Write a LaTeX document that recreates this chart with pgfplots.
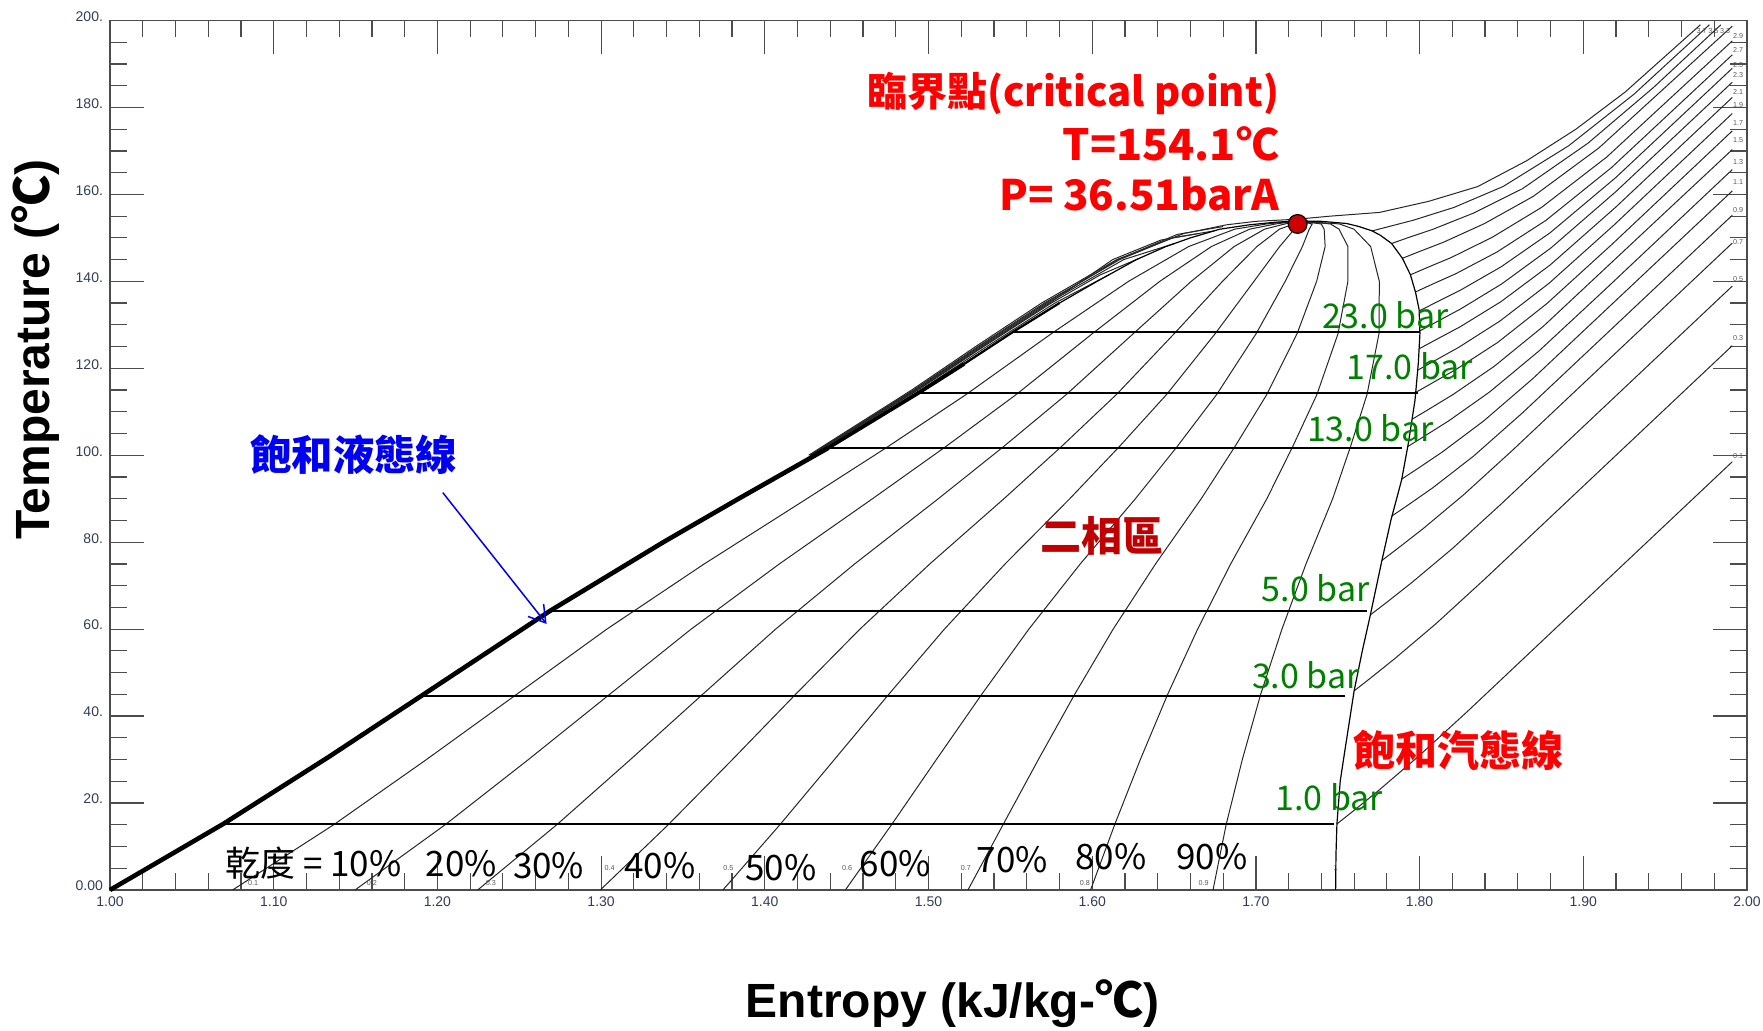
\documentclass[border=0pt]{standalone}
\usepackage{fontspec}
\setmainfont{Liberation Sans}
\newfontfamily\cjk{Noto Sans CJK TC}
\usepackage{pgfplots}
\pgfplotsset{compat=1.18}
\usetikzlibrary{arrows.meta}
\definecolor{tickc}{RGB}{50,60,90}
\definecolor{grn}{RGB}{0,128,0}
\definecolor{dred}{RGB}{192,0,0}
\definecolor{critc}{RGB}{204,0,0}
\definecolor{lblue}{RGB}{0,0,240}
\pgfplotsset{
  ql/.style={black!85, line width=0.5pt},
  ib/.style={black!85, line width=0.5pt},
  hb/.style={black, line width=1pt},
}
\tikzset{tl/.style={font=\fontsize{3.6}{4}\selectfont, text=black!65, inner sep=0pt}}
\begin{document}
\begin{tikzpicture}
\begin{axis}[
  at={(0pt,0pt)}, anchor=south west,
  scale only axis, width=818.5pt, height=434.75pt,
  xmin=1, xmax=2, ymin=0, ymax=200,
  clip=false,
  axis line style={draw=black!70, line width=0.7pt},
  xtick={1,1.1,1.2,1.3,1.4,1.5,1.6,1.7,1.8,1.9,2},
  xticklabels={1.00,1.10,1.20,1.30,1.40,1.50,1.60,1.70,1.80,1.90,2.00},
  ytick={0,20,40,60,80,100,120,140,160,180,200},
  yticklabels={0.00,20.,40.,60.,80.,100.,120.,140.,160.,180.,200.},
  minor x tick num=4, minor y tick num=3,
  tick align=inside,
  xtick pos=both, ytick pos=both,
  xticklabel pos=left, yticklabel pos=left,
  major tick length=17pt, minor tick length=8.5pt,
  tick style={draw=black!70, line width=0.6pt},
  ticklabel style={font=\fontsize{7}{8}\selectfont, text=tickc},
  yticklabel style={yshift=2pt},
]
% ---------- quality lines ----------
\addplot[ql] coordinates {(1.0749,0) (1.1366,15) (1.1933,30) (1.2484,45) (1.3035,60) (1.3630,75) (1.4257,90) (1.4753,102) (1.5231,114) (1.5752,128) (1.6222,140) (1.6589,148) (1.6871,152) (1.7066,153.2) (1.7255,153.9)};
\addplot[ql] coordinates {(1.1497,0) (1.2047,15) (1.2556,30) (1.3052,45) (1.3550,60) (1.4089,75) (1.4658,90) (1.5106,102) (1.5537,114) (1.6002,128) (1.6413,140) (1.6728,148) (1.6962,152) (1.7121,153.2) (1.7255,153.9)};
\addplot[ql] coordinates {(1.2246,0) (1.2729,15) (1.3179,30) (1.3620,45) (1.4066,60) (1.4549,75) (1.5060,90) (1.5459,102) (1.5843,114) (1.6252,128) (1.6605,140) (1.6867,148) (1.7053,152) (1.7177,153.2) (1.7255,153.9)};
\addplot[ql] coordinates {(1.2995,0) (1.3410,15) (1.3802,30) (1.4188,45) (1.4581,60) (1.5008,75) (1.5461,90) (1.5812,102) (1.6149,114) (1.6502,128) (1.6796,140) (1.7006,148) (1.7144,152) (1.7232,153.2) (1.7255,153.9)};
\addplot[ql] coordinates {(1.3744,0) (1.4092,15) (1.4425,30) (1.4757,45) (1.5097,60) (1.5468,75) (1.5863,90) (1.6166,102) (1.6455,114) (1.6752,128) (1.6988,140) (1.7145,148) (1.7235,152) (1.7288,153.2) (1.7255,153.9)};
\addplot[ql] coordinates {(1.4492,0) (1.4774,15) (1.5048,30) (1.5325,45) (1.5613,60) (1.5927,75) (1.6264,90) (1.6519,102) (1.6761,114) (1.7002,128) (1.7179,140) (1.7284,148) (1.7326,152) (1.7344,153.2) (1.7255,153.9)};
\addplot[ql] coordinates {(1.5241,0) (1.5455,15) (1.5671,30) (1.5893,45) (1.6128,60) (1.6387,75) (1.6666,90) (1.6872,102) (1.7067,114) (1.7252,128) (1.7371,140) (1.7423,148) (1.7417,152) (1.7399,153.2) (1.7255,153.9)};
\addplot[ql] coordinates {(1.5990,0) (1.6137,15) (1.6294,30) (1.6461,45) (1.6644,60) (1.6846,75) (1.7067,90) (1.7225,102) (1.7373,114) (1.7502,128) (1.7562,140) (1.7562,148) (1.7508,152) (1.7455,153.2) (1.7255,153.9)};
\addplot[ql] coordinates {(1.6738,0) (1.6818,15) (1.6917,30) (1.7029,45) (1.7159,60) (1.7306,75) (1.7469,90) (1.7578,102) (1.7679,114) (1.7752,128) (1.7754,140) (1.7701,148) (1.7599,152) (1.7510,153.2) (1.7255,153.9)};
% ---------- superheated isobars (MPa) ----------
\addplot[ib] coordinates {(1.7495,15.2) (1.7595,18.17) (1.7745,22.74) (1.7995,30.81) (1.8295,41.17) (1.991,98.5)};
\addplot[ib] coordinates {(1.7600,45.8) (1.770,48.74) (1.785,53.27) (1.810,61.25) (1.840,71.59) (1.991,125.2)};
\addplot[ib] coordinates {(1.7700,63.3) (1.780,66.19) (1.795,70.64) (1.820,78.53) (1.850,88.84) (1.991,138.9)};
\addplot[ib] coordinates {(1.7770,75.8) (1.787,78.67) (1.802,83.07) (1.827,90.94) (1.857,101.23) (1.991,148.8)};
\addplot[ib] coordinates {(1.7830,86.0) (1.793,88.56) (1.808,92.5) (1.833,99.81) (1.863,109.8) (1.991,155.2)};
\addplot[ib] coordinates {(1.7890,94.5) (1.799,96.97) (1.814,100.78) (1.839,107.84) (1.869,117.57) (1.991,160.8)};
\addplot[ib] coordinates {(1.7928,102.0) (1.8028,104.35) (1.8178,107.91) (1.8428,114.56) (1.8728,123.94) (1.9128,137.94) (1.991,165.7)};
\addplot[ib] coordinates {(1.7955,108.3) (1.8055,110.55) (1.8205,113.99) (1.8455,120.43) (1.8755,129.63) (1.991,170.3)};
\addplot[ib] coordinates {(1.7978,114.5) (1.8078,116.63) (1.8228,119.87) (1.8478,125.97) (1.8778,134.9) (1.9178,148.61) (1.991,174.6)};
\addplot[ib] coordinates {(1.7990,119.6) (1.809,121.7) (1.824,124.84) (1.849,130.85) (1.879,139.53) (1.919,153.04) (1.991,178.6)};
\addplot[ib] coordinates {(1.7998,124.5) (1.8098,126.54) (1.8248,129.55) (1.8498,135.35) (1.8798,143.78) (1.9198,157.06) (1.991,182.3)};
\addplot[ib] coordinates {(1.8002,128.6) (1.8102,130.64) (1.8252,133.68) (1.8502,139.42) (1.8802,147.67) (1.9202,160.74) (1.991,185.8)};
\addplot[ib] coordinates {(1.7998,133.2) (1.8098,135.12) (1.8248,137.94) (1.8498,143.34) (1.8798,151.19) (1.9198,163.86) (1.991,189.0)};
\addplot[ib] coordinates {(1.7972,137.5) (1.8072,139.24) (1.8222,141.77) (1.8472,146.73) (1.8772,154.03) (1.9172,166.16) (1.991,192.1)};
\addplot[ib] coordinates {(1.7944,141.5) (1.8044,143.13) (1.8194,145.49) (1.8444,150.14) (1.8744,156.98) (1.9144,168.62) (1.991,195.3)};
\addplot[ib] coordinates {(1.7895,145.3) (1.7995,146.8) (1.8145,148.98) (1.8395,153.26) (1.8695,159.56) (1.9095,170.68) (1.991,198.7)};
\addplot[ib] coordinates {(1.7829,148.7) (1.7929,150.04) (1.8079,151.94) (1.8329,155.69) (1.8629,161.32) (1.9029,171.79) (1.9429,184.6) (1.984,199)};
\addplot[ib] coordinates {(1.7710,151.6) (1.781,152.58) (1.796,154.04) (1.821,157.0) (1.851,161.81) (1.891,171.17) (1.931,183.06) (1.977,199)};
\addplot[ib] coordinates {(1.4268,100) (1.4897,115) (1.5288,125) (1.5690,135) (1.6150,145) (1.6560,151) (1.6820,153) (1.7000,153.8) (1.7255,154.3) (1.7455,155.0) (1.7755,155.85) (1.8055,158.4) (1.8355,161.8) (1.8655,167.76) (1.8955,175.0) (1.9255,183.52) (1.9715,199)};
% compressed-liquid isobars fanning near the top
\addplot[ib] coordinates {(1.4298,100) (1.4950,115) (1.5356,125) (1.5772,135) (1.6102,141.5)};
\addplot[ib] coordinates {(1.4290,100) (1.4936,115) (1.5337,125) (1.5750,135) (1.6050,141.5) (1.6288,145.3)};
\addplot[ib] coordinates {(1.4282,100) (1.4923,115) (1.5320,125) (1.5729,135) (1.6192,145) (1.6503,148.7)};
\addplot[ib] coordinates {(1.4274,100) (1.4908,115) (1.5302,125) (1.5707,135) (1.6168,145) (1.6491,150) (1.6744,151.6)};
\addplot[ib] coordinates {(1.4284,100) (1.4930,115) (1.5330,125) (1.5740,135) (1.6125,145) (1.6420,149.5) (1.6650,151)};
\addplot[ib] coordinates {(1.4278,100) (1.4915,115) (1.5310,125) (1.5718,135) (1.6158,145) (1.6520,150.8) (1.6800,152.6)};
% ---------- saturation lines ----------
\addplot[black, line width=0.6pt] coordinates {(1.0000,0) (1.0228,5) (1.0692,15.2) (1.1340,30.7) (1.1904,44.7) (1.2519,60) (1.2688,64.2) (1.3380,80) (1.3840,90) (1.4388,101.7) (1.4938,114.3) (1.5518,128.4) (1.5800,135) (1.6030,140) (1.6270,145) (1.6450,148) (1.6600,150) (1.6780,152) (1.6960,153) (1.7120,153.6) (1.7255,153.9)};
\addplot[black, line width=2.3pt] coordinates {(1.0000,0) (1.0228,5) (1.0692,15.2) (1.1340,30.7) (1.1904,44.7) (1.2519,60) (1.2688,64.2) (1.3380,80) (1.3840,90) (1.4388,101.7)};
\addplot[black, line width=1.8pt] coordinates {(1.4388,101.7) (1.4938,114.3) (1.5218,121)};
\addplot[black, line width=1.1pt] coordinates {(1.5218,121) (1.5518,128.4) (1.5800,135)};
\addplot[black, line width=0.6pt] coordinates {(1.7487,0) (1.7489,8) (1.7495,15.2) (1.7515,25) (1.7544,32.2) (1.7600,45.8) (1.7650,55) (1.7697,62.9) (1.7768,75.5) (1.7825,85.1) (1.7890,94.3) (1.7931,102.7) (1.7972,112.7) (1.7992,121.1) (1.8002,128.0) (1.7997,133.5) (1.7975,137.5) (1.7944,141.5) (1.7895,145.3) (1.7829,148.7) (1.7760,150.6) (1.7710,151.6) (1.7630,152.6) (1.7555,153.3) (1.7400,153.8) (1.7255,153.9)};
% ---------- two-phase isobars ----------
\addplot[hb] coordinates {(1.0692,15.2) (1.7474,15.2)};
\addplot[hb] coordinates {(1.1904,44.7) (1.7544,44.7)};
\addplot[hb] coordinates {(1.2688,64.2) (1.7681,64.2)};
\addplot[hb] coordinates {(1.4388,101.7) (1.7890,101.7)};
\addplot[hb] coordinates {(1.4938,114.3) (1.7992,114.3)};
\addplot[hb] coordinates {(1.5518,128.4) (1.8002,128.4)};
% ---------- critical point ----------
\addplot[only marks, mark=*, mark size=4.7pt, mark options={fill=critc, draw=black, line width=0.6pt}] coordinates {(1.7255,153.2)};
% ---------- tiny labels ----------
\node[tl] at (axis cs:1.0874,1.6) {0.1};
\node[tl] at (axis cs:1.1600,1.6) {0.2};
\node[tl] at (axis cs:1.2326,1.6) {0.3};
\node[tl] at (axis cs:1.3052,5) {0.4};
\node[tl] at (axis cs:1.3778,5) {0.5};
\node[tl] at (axis cs:1.4503,5) {0.6};
\node[tl] at (axis cs:1.5229,5) {0.7};
\node[tl] at (axis cs:1.5955,1.6) {0.8};
\node[tl] at (axis cs:1.6681,1.6) {0.9};
\node[tl, text=red!70!black] at (axis cs:1.7487,5) {1};
\node[tl] at (axis cs:1.9945,99.9) {0.1};
\node[tl] at (axis cs:1.9945,126.9) {0.3};
\node[tl] at (axis cs:1.9945,140.5) {0.5};
\node[tl] at (axis cs:1.9945,149.1) {0.7};
\node[tl] at (axis cs:1.9945,156.4) {0.9};
\node[tl] at (axis cs:1.9945,162.8) {1.1};
\node[tl] at (axis cs:1.9945,167.5) {1.3};
\node[tl] at (axis cs:1.9945,172.4) {1.5};
\node[tl] at (axis cs:1.9945,176.5) {1.7};
\node[tl] at (axis cs:1.9945,180.6) {1.9};
\node[tl] at (axis cs:1.9945,183.6) {2.1};
\node[tl] at (axis cs:1.9945,187.5) {2.3};
\node[tl] at (axis cs:1.9945,189.8) {2.5};
\node[tl] at (axis cs:1.9945,193.1) {2.7};
\node[tl] at (axis cs:1.9945,196.5) {2.9};
\node[tl] at (axis cs:1.9723,197.6) {3.7};
\node[tl] at (axis cs:1.9795,197.6) {3.5};
\node[tl] at (axis cs:1.9866,197.6) {3.3};
% ---------- annotations ----------
\node[anchor=east, text=red, font=\cjk\bfseries\fontsize{20}{26}\selectfont, inner sep=0pt] at (axis cs:1.7144,183.2) {臨界點(critical point)};
\node[anchor=east, text=red, font=\cjk\bfseries\fontsize{21.5}{26}\selectfont, inner sep=0pt] at (axis cs:1.7144,171.6) {T=154.1℃};
\node[anchor=east, text=red, font=\cjk\bfseries\fontsize{21}{26}\selectfont, inner sep=0pt] at (axis cs:1.7144,160.2) {P= 36.51barA};
\node[anchor=west, text=lblue, font=\cjk\bfseries\fontsize{20.7}{24}\selectfont, inner sep=0pt] at (axis cs:1.0855,100.06) {飽和液態線};
\draw[lblue, line width=0.75pt, -{Straight Barb[length=8pt,width=10pt]}] (axis cs:1.2033,91.4) -- (axis cs:1.2667,61.2);
\node[text=dred, font=\cjk\bfseries\fontsize{20.5}{24}\selectfont, inner sep=0pt] at (axis cs:1.606,81.4) {二相區};
\node[anchor=west, text=red, font=\cjk\bfseries\fontsize{21}{24}\selectfont, inner sep=0pt] at (axis cs:1.7595,32.2) {飽和汽態線};
\node[anchor=west, text=grn, font=\cjk\fontsize{17}{20}\selectfont, inner sep=0pt] at (axis cs:1.7402,132.3) {23.0 bar};
\node[anchor=east, text=grn, font=\cjk\fontsize{17}{20}\selectfont, inner sep=0pt] at (axis cs:1.8328,120.4) {17.0 bar};
\node[anchor=west, text=grn, font=\cjk\fontsize{17}{20}\selectfont, inner sep=0pt] at (axis cs:1.7310,106.2) {13.0 bar};
\node[anchor=east, text=grn, font=\cjk\fontsize{17}{20}\selectfont, inner sep=0pt] at (axis cs:1.7697,69.4) {5.0 bar};
\node[anchor=east, text=grn, font=\cjk\fontsize{17}{20}\selectfont, inner sep=0pt] at (axis cs:1.7636,49.45) {3.0 bar};
\node[anchor=east, text=grn, font=\cjk\fontsize{17}{20}\selectfont, inner sep=0pt] at (axis cs:1.7778,21.46) {1.0 bar};
\node[anchor=west, font=\cjk\fontsize{17.5}{20}\selectfont, inner sep=0pt] at (axis cs:1.0702,6.1) {乾度 = 10\%};
\node[font=\cjk\fontsize{17.5}{20}\selectfont, inner sep=0pt] at (axis cs:1.2147,6.1) {20\%};
\node[font=\cjk\fontsize{17.5}{20}\selectfont, inner sep=0pt] at (axis cs:1.2679,5.5) {30\%};
\node[font=\cjk\fontsize{17.5}{20}\selectfont, inner sep=0pt] at (axis cs:1.3360,5.5) {40\%};
\node[font=\cjk\fontsize{17.5}{20}\selectfont, inner sep=0pt] at (axis cs:1.4099,5.06) {50\%};
\node[font=\cjk\fontsize{17.5}{20}\selectfont, inner sep=0pt] at (axis cs:1.4798,6.1) {60\%};
\node[font=\cjk\fontsize{17.5}{20}\selectfont, inner sep=0pt] at (axis cs:1.5513,6.9) {70\%};
\node[font=\cjk\fontsize{17.5}{20}\selectfont, inner sep=0pt] at (axis cs:1.6115,7.6) {80\%};
\node[font=\cjk\fontsize{17.5}{20}\selectfont, inner sep=0pt] at (axis cs:1.6732,7.6) {90\%};
% axis titles
\node[rotate=90, font=\bfseries\fontsize{24}{28}\selectfont, inner sep=0pt] at (axis cs:0.9548,124.3) {Temperature ({\cjk ℃})};
\node[font=\bfseries\fontsize{24}{28}\selectfont, inner sep=0pt] at (axis cs:1.5146,-26.2) {Entropy (kJ/kg-{\cjk ℃})};
\end{axis}
\pgfresetboundingbox
\path[use as bounding box] (-55pt,-70.5pt) rectangle (826.5pt,445pt);
\end{tikzpicture}
\end{document}
